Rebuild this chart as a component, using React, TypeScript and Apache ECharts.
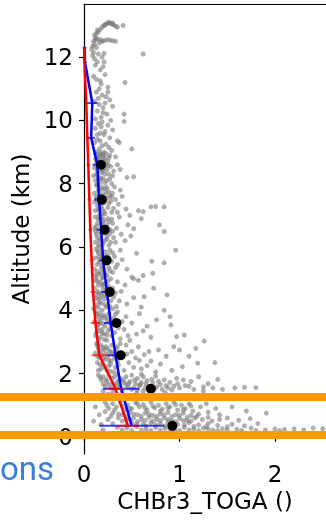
import React, { useEffect, useRef } from "react";
import * as echarts from "echarts";

// Profile levels (km) shared by the mean profiles and their spread bars
const levels = [0.35, 1.52, 2.58, 3.6, 4.58, 5.58, 6.55, 7.5, 8.6, 9.45, 10.55, 11.85, 12.3];
const blueMean = [0.5, 0.39, 0.33, 0.28, 0.24, 0.2, 0.18, 0.157, 0.14, 0.075, 0.087, 0.01, 0.005];
const blueErr = [0.34, 0.19, 0.085, 0.07, 0.06, 0.04, 0.05, 0.05, 0.05, 0.04, 0.055, 0.02, 0.02];
const redMean = [0.46, 0.33, 0.16, 0.12, 0.094, 0.08, 0.066, 0.056, 0.045, 0.035, 0.024, 0.004, 0.002];
const redErr = [0.12, 0.09, 0.08, 0.05, 0.025, 0.02, 0.02, 0.02, 0.02, 0.015, 0.015, 0.01, 0.01];

// Binned medians
const dotLevels = [0.35, 1.52, 2.58, 3.6, 4.58, 5.58, 6.55, 7.5, 8.6];
const dotValues = [0.925, 0.7, 0.385, 0.34, 0.27, 0.237, 0.217, 0.188, 0.178];

// Reference altitudes marked across the figure
const bandLevels = [0.06, 1.26];

const xTicks = [0, 1, 2];
const yTicks = [0, 2, 4, 6, 8, 10, 12];

// Individual samples: [CHBr3, altitude km]
const obsPoints: [number, number][] = [
  [0.19, 12.95], [0.21, 13.0], [0.23, 13.05], [0.25, 13.08], [0.27, 13.07], [0.29, 13.05], [0.31, 13.02],
  [0.33, 12.98], [0.35, 12.95], [0.22, 13.02], [0.26, 13.1], [0.3, 13.08], [0.41, 13.0], [0.17, 12.88],
  [0.15, 12.8], [0.13, 12.75], [0.11, 12.7], [0.14, 12.85], [0.12, 12.62],
  [0.1, 12.5], [0.12, 12.55], [0.14, 12.58], [0.17, 12.55], [0.19, 12.5], [0.21, 12.52], [0.24, 12.55],
  [0.27, 12.54], [0.3, 12.52], [0.33, 12.5], [0.16, 12.45], [0.11, 12.4], [0.09, 12.35],
  [0.08, 12.25], [0.1, 12.15], [0.13, 12.3], [0.09, 12.05], [0.15, 12.1], [0.19, 12.0], [0.21, 12.12],
  [0.11, 11.95], [0.62, 12.1],
  [0.14, 11.85], [0.1, 11.4], [0.17, 11.6], [0.2, 11.7], [0.13, 11.3], [0.22, 11.45], [0.18, 11.15],
  [0.43, 11.2], [0.25, 11.05], [0.16, 11.0], [0.12, 11.75], [0.17, 11.25], [0.21, 11.85],
  [0.13, 10.9], [0.19, 10.8], [0.23, 10.75], [0.11, 10.6], [0.27, 10.65], [0.16, 10.5], [0.2, 10.4],
  [0.3, 10.45], [0.14, 10.3], [0.24, 10.2], [0.42, 10.2], [0.18, 10.1], [0.12, 10.05], [0.28, 10.0], [0.22, 10.55],
  [0.2, 10.25], [0.15, 10.7], [0.25, 10.9],
  [0.15, 9.9], [0.19, 9.95], [0.42, 9.97], [0.25, 9.85], [0.12, 9.75], [0.3, 9.7], [0.17, 9.6], [0.21, 9.55],
  [0.14, 9.4], [0.27, 9.45], [0.35, 9.35], [0.11, 9.3], [0.19, 9.2], [0.23, 9.25], [0.5, 9.1], [0.16, 9.1],
  [0.29, 9.05], [0.13, 9.0], [0.21, 9.0], [0.37, 9.3], [0.18, 9.8], [0.22, 9.65], [0.14, 9.55], [0.26, 9.15],
  [0.17, 9.35],
  [0.12, 8.95], [0.15, 8.9], [0.18, 8.92], [0.2, 8.85], [0.14, 8.8], [0.17, 8.75], [0.22, 8.8], [0.25, 8.7],
  [0.13, 8.65], [0.19, 8.6], [0.16, 8.55], [0.21, 8.5], [0.24, 8.45], [0.28, 8.55], [0.11, 8.5], [0.14, 8.4],
  [0.18, 8.35], [0.22, 8.3], [0.26, 8.3], [0.31, 8.4], [0.35, 8.6], [0.15, 8.2], [0.2, 8.15], [0.17, 8.05],
  [0.24, 8.1], [0.12, 8.1], [0.29, 8.0], [0.45, 8.2], [0.52, 8.22], [0.38, 8.45], [0.33, 8.85], [0.1, 8.25],
  [0.23, 8.95], [0.27, 8.9], [0.16, 8.68], [0.2, 8.4], [0.13, 8.3], [0.25, 8.58],
  [0.17, 8.98], [0.21, 8.72], [0.14, 8.52], [0.19, 8.45], [0.23, 8.62], [0.26, 8.82], [0.12, 8.78],
  [0.18, 8.18], [0.22, 8.02], [0.15, 8.12], [0.3, 8.25], [0.27, 8.15], [0.2, 8.92], [0.16, 8.85],
  [0.13, 7.95], [0.18, 7.9], [0.22, 7.85], [0.15, 7.8], [0.26, 7.75], [0.11, 7.7], [0.2, 7.65], [0.3, 7.7],
  [0.16, 7.6], [0.24, 7.55], [0.13, 7.5], [0.28, 7.45], [0.21, 7.4], [0.17, 7.35], [0.33, 7.5], [0.36, 7.35],
  [0.14, 7.3], [0.25, 7.25], [0.19, 7.2], [0.12, 7.15], [0.29, 7.1], [0.22, 7.05], [0.4, 7.6], [0.44, 7.2],
  [0.7, 7.27], [0.75, 7.28], [0.84, 7.27], [0.48, 7.0], [0.16, 7.0], [0.32, 7.9], [0.38, 7.8], [0.35, 7.1],
  [0.62, 7.12], [0.57, 7.15], [0.2, 7.5], [0.15, 7.42], [0.27, 7.62],
  [0.14, 7.98], [0.19, 7.82], [0.23, 7.72], [0.17, 7.68], [0.13, 7.58], [0.22, 7.48], [0.18, 7.28],
  [0.26, 7.38], [0.15, 7.18], [0.21, 7.12], [0.24, 7.88], [0.29, 7.58], [0.11, 7.42], [0.18, 7.05], [0.31, 7.22],
  [0.12, 6.95], [0.17, 6.9], [0.21, 6.85], [0.26, 6.8], [0.14, 6.75], [0.19, 6.7], [0.3, 6.75], [0.23, 6.6],
  [0.11, 6.6], [0.16, 6.5], [0.27, 6.55], [0.34, 6.6], [0.2, 6.45], [0.13, 6.4], [0.24, 6.35], [0.31, 6.3],
  [0.17, 6.25], [0.22, 6.2], [0.28, 6.15], [0.12, 6.15], [0.15, 6.05], [0.26, 6.05], [0.39, 6.4], [0.46, 6.7],
  [0.52, 6.58], [0.43, 6.2], [0.84, 6.49], [0.79, 6.7], [0.6, 6.9], [0.37, 6.95], [0.49, 6.35], [0.19, 6.95],
  [0.18, 6.58], [0.14, 6.3], [0.25, 6.9],
  [0.15, 6.88], [0.2, 6.78], [0.24, 6.68], [0.13, 6.65], [0.18, 6.42], [0.22, 6.52], [0.27, 6.42], [0.16, 6.18],
  [0.2, 6.1], [0.24, 6.25], [0.3, 6.5], [0.12, 6.5], [0.17, 6.02], [0.29, 6.88], [0.33, 6.15],
  [0.13, 5.95], [0.18, 5.9], [0.22, 5.85], [0.27, 5.9], [0.15, 5.8], [0.2, 5.7], [0.25, 5.75], [0.32, 5.7],
  [0.12, 5.65], [0.17, 5.6], [0.29, 5.55], [0.23, 5.5], [0.14, 5.45], [0.19, 5.4], [0.26, 5.35], [0.35, 5.45],
  [0.11, 5.3], [0.21, 5.25], [0.3, 5.2], [0.16, 5.15], [0.24, 5.1], [0.13, 5.05], [0.28, 5.0], [0.4, 5.6],
  [0.45, 5.3], [0.55, 5.8], [0.62, 5.1], [0.96, 5.9], [0.84, 5.5], [0.71, 5.55], [0.5, 5.05], [0.38, 5.9],
  [0.2, 5.05], [0.16, 5.52], [0.22, 5.62], [0.18, 5.18],
  [0.14, 5.88], [0.19, 5.78], [0.23, 5.68], [0.16, 5.7], [0.21, 5.48], [0.25, 5.58], [0.18, 5.32], [0.14, 5.22],
  [0.22, 5.15], [0.27, 5.25], [0.12, 5.12], [0.3, 5.82], [0.33, 5.35], [0.19, 5.02], [0.26, 5.65],
  [0.12, 4.95], [0.17, 4.9], [0.22, 4.85], [0.15, 4.8], [0.26, 4.75], [0.11, 4.7], [0.2, 4.65], [0.3, 4.7],
  [0.14, 4.6], [0.18, 4.5], [0.24, 4.45], [0.33, 4.55], [0.12, 4.4], [0.21, 4.35], [0.28, 4.3], [0.16, 4.25],
  [0.37, 4.3], [0.13, 4.15], [0.23, 4.1], [0.3, 4.05], [0.19, 4.0], [0.43, 4.8], [0.52, 5.0], [0.57, 4.95],
  [0.72, 5.17], [0.73, 4.7], [0.87, 4.49], [0.63, 4.43], [0.52, 4.4], [0.45, 4.2], [0.6, 4.1], [0.39, 4.6],
  [0.1, 4.05], [0.35, 4.9], [0.2, 4.82], [0.15, 4.35],
  [0.14, 4.92], [0.19, 4.78], [0.23, 4.68], [0.16, 4.55], [0.21, 4.48], [0.26, 4.58], [0.13, 4.5], [0.18, 4.22],
  [0.22, 4.18], [0.27, 4.12], [0.15, 4.08], [0.31, 4.42], [0.34, 4.12], [0.17, 4.4], [0.25, 4.92],
  [0.12, 3.95], [0.16, 3.9], [0.21, 3.85], [0.26, 3.9], [0.14, 3.8], [0.19, 3.75], [0.24, 3.7], [0.31, 3.75],
  [0.11, 3.65], [0.17, 3.6], [0.28, 3.55], [0.22, 3.5], [0.14, 3.45], [0.36, 3.45], [0.19, 3.4], [0.25, 3.35],
  [0.32, 3.3], [0.13, 3.3], [0.21, 3.25], [0.29, 3.2], [0.17, 3.15], [0.38, 3.1], [0.24, 3.05], [0.44, 3.8],
  [0.5, 3.6], [0.58, 3.9], [0.66, 3.5], [0.76, 3.7], [0.9, 3.8], [0.55, 3.25], [0.42, 3.4], [0.91, 3.54],
  [0.97, 3.17], [1.05, 3.22], [0.7, 3.15], [0.48, 3.05], [0.62, 3.35], [0.15, 3.05], [0.35, 3.95], [0.84, 4.0],
  [0.13, 3.88], [0.18, 3.82], [0.23, 3.78], [0.16, 3.68], [0.2, 3.58], [0.26, 3.62], [0.15, 3.55], [0.19, 3.28],
  [0.24, 3.22], [0.27, 3.42], [0.12, 3.2], [0.3, 3.6], [0.33, 3.88], [0.21, 3.08], [0.16, 3.35], [0.4, 3.65],
  [0.46, 3.2],
  [0.13, 2.95], [0.18, 2.9], [0.23, 2.85], [0.29, 2.9], [0.15, 2.8], [0.21, 2.75], [0.27, 2.7], [0.34, 2.75],
  [0.12, 2.65], [0.19, 2.6], [0.25, 2.55], [0.31, 2.6], [0.16, 2.5], [0.4, 2.55], [0.22, 2.45], [0.28, 2.4],
  [0.35, 2.4], [0.14, 2.35], [0.2, 2.3], [0.26, 2.25], [0.33, 2.2], [0.18, 2.15], [0.24, 2.1], [0.31, 2.05],
  [0.44, 2.9], [0.5, 2.7], [0.57, 2.85], [0.47, 2.35], [0.54, 2.5], [0.63, 2.6], [0.7, 2.4], [0.78, 2.75],
  [0.94, 2.85], [1.0, 2.75], [1.17, 2.8], [1.26, 3.03], [0.86, 2.55], [1.03, 2.22], [1.19, 2.33], [1.37, 2.35],
  [0.6, 2.15], [0.42, 2.1], [0.92, 2.1], [0.38, 2.95], [0.66, 2.25], [0.75, 2.05], [1.1, 2.55],
  [0.14, 2.88], [0.2, 2.82], [0.25, 2.78], [0.17, 2.7], [0.23, 2.62], [0.29, 2.68], [0.14, 2.55], [0.2, 2.48],
  [0.26, 2.42], [0.32, 2.48], [0.17, 2.28], [0.22, 2.2], [0.28, 2.3], [0.36, 2.28], [0.15, 2.1], [0.27, 2.08],
  [0.38, 2.65], [0.45, 2.62], [0.52, 2.2], [0.58, 2.42], [0.68, 2.7], [0.8, 2.3], [0.35, 2.85],
  [0.15, 1.95], [0.2, 1.9], [0.26, 1.95], [0.32, 1.9], [0.38, 1.85], [0.44, 1.9], [0.5, 1.95], [0.56, 1.85],
  [0.62, 1.9], [0.18, 1.8], [0.24, 1.75], [0.3, 1.7], [0.36, 1.78], [0.42, 1.72], [0.48, 1.75], [0.54, 1.68],
  [0.6, 1.72], [0.66, 1.78], [0.72, 1.7], [0.78, 1.75], [0.84, 1.8], [0.9, 1.72], [0.22, 1.6], [0.28, 1.55],
  [0.34, 1.62], [0.46, 1.58], [0.52, 1.55], [0.58, 1.62], [0.64, 1.55], [0.76, 1.58], [0.82, 1.5], [0.88, 1.55],
  [0.94, 1.6], [1.0, 1.55], [1.06, 1.62], [1.2, 1.9], [1.12, 1.75], [1.3, 1.68], [1.4, 1.82], [1.58, 1.55],
  [1.68, 1.57], [1.8, 1.56], [1.45, 1.5], [1.25, 1.45], [0.97, 1.85], [0.7, 1.45], [0.4, 1.45], [0.3, 1.4],
  [1.15, 1.5], [0.25, 1.35], [0.55, 1.38], [0.85, 1.4],
  [0.17, 1.88], [0.23, 1.82], [0.29, 1.85], [0.35, 1.7], [0.41, 1.8], [0.47, 1.68], [0.53, 1.8], [0.59, 1.65],
  [0.65, 1.68], [0.71, 1.82], [0.2, 1.68], [0.26, 1.65], [0.32, 1.52], [0.38, 1.58], [0.44, 1.65], [0.5, 1.5],
  [0.56, 1.48], [0.62, 1.45], [0.68, 1.6], [0.74, 1.52], [0.8, 1.65], [0.86, 1.62], [0.92, 1.48], [0.98, 1.68],
  [1.04, 1.8], [1.1, 1.6], [0.2, 1.45], [0.35, 1.98], [0.6, 1.98], [0.75, 1.92], [1.25, 1.58], [1.35, 1.55],
  [0.22, 1.1], [0.3, 1.05], [0.38, 1.1], [0.46, 1.0], [0.54, 1.08], [0.62, 1.02], [0.7, 1.1], [0.78, 1.0],
  [0.86, 1.05], [0.94, 1.1], [1.02, 1.0], [1.1, 1.05], [0.26, 0.9], [0.34, 0.95], [0.42, 0.85], [0.5, 0.9],
  [0.58, 0.95], [0.66, 0.85], [0.74, 0.92], [0.82, 0.88], [0.9, 0.95], [0.98, 0.85], [1.06, 0.9], [1.14, 0.82],
  [1.22, 0.95], [0.3, 0.75], [0.4, 0.7], [0.48, 0.78], [0.56, 0.7], [0.64, 0.75], [0.72, 0.68], [0.8, 0.72],
  [0.88, 0.78], [0.96, 0.7], [1.04, 0.75], [1.12, 0.68], [1.2, 0.72], [1.3, 0.78], [1.42, 0.7], [1.91, 0.75],
  [0.36, 0.6], [0.44, 0.55], [0.52, 0.6], [0.6, 0.55], [0.68, 0.62], [0.76, 0.55], [0.84, 0.6], [0.92, 0.52],
  [1.0, 0.58], [1.08, 0.52], [1.16, 0.6], [1.24, 0.55], [1.34, 0.5], [1.5, 0.6], [1.62, 0.52], [1.74, 0.58],
  [0.5, 0.45], [0.62, 0.4], [0.7, 0.45], [0.8, 0.42], [0.88, 0.47], [0.98, 0.4], [1.1, 0.45], [1.2, 0.38],
  [1.3, 0.42], [1.4, 0.36], [1.55, 0.4], [1.68, 0.35], [1.82, 0.42], [0.35, 0.3], [0.45, 0.28], [0.55, 0.32],
  [0.65, 0.25], [0.75, 0.3], [0.85, 0.27], [0.95, 0.22], [1.05, 0.3], [1.15, 0.25], [1.25, 0.28], [1.35, 0.22],
  [1.45, 0.26], [1.6, 0.24], [1.75, 0.28], [1.9, 0.22], [2.0, 0.25], [2.1, 0.24], [2.2, 0.25], [2.4, 0.28],
  [2.5, 0.26], [0.2, 0.22], [0.12, 0.95], [0.16, 0.7], [0.1, 0.5], [0.18, 0.4],
  [0.24, 1.0], [0.32, 0.85], [0.4, 0.98], [0.48, 0.88], [0.56, 1.05], [0.64, 0.92], [0.72, 0.98], [0.8, 0.82],
  [0.88, 0.92], [0.96, 1.02], [1.04, 0.85], [1.12, 0.98], [0.28, 0.65], [0.36, 0.72], [0.44, 0.65], [0.52, 0.72],
  [0.6, 0.65], [0.68, 0.72], [0.76, 0.65], [0.84, 0.7], [0.92, 0.65], [1.0, 0.68], [1.08, 0.62], [1.18, 0.65],
  [0.4, 0.5], [0.48, 0.55], [0.56, 0.48], [0.64, 0.52], [0.72, 0.5], [0.8, 0.52], [0.88, 0.55], [0.96, 0.48],
  [1.04, 0.52], [1.12, 0.5], [0.45, 0.38], [0.55, 0.4], [0.65, 0.35], [0.75, 0.38], [0.85, 0.35], [0.95, 0.32],
  [1.05, 0.38], [1.15, 0.33], [1.28, 0.32], [1.5, 0.32], [0.3, 0.42], [0.25, 0.55], [0.22, 0.8], [1.3, 0.62],
  [1.42, 0.55], [1.38, 0.9], [1.28, 1.05], [1.55, 0.95], [1.7, 0.82],
  [0.6, 0.22], [0.7, 0.2], [0.8, 0.22], [0.9, 0.25], [1.0, 0.2], [1.1, 0.22], [1.2, 0.2], [1.3, 0.25],
  [1.4, 0.2], [1.5, 0.22], [1.65, 0.2], [1.8, 0.2], [2.05, 0.2], [2.3, 0.22], [0.5, 0.2], [0.4, 0.22],
];

const XMAX = 2.534;
const FONT = "DejaVu Sans";
const W = 326;
const H = 521;

export default function App() {
  const ref = useRef<HTMLDivElement>(null);

  useEffect(() => {
    const chart = echarts.init(ref.current!, null, { renderer: "svg" });

    const errRender = (color: string) => (params: any, api: any) => {
      const c = api.value(0);
      const y = api.value(1);
      const e = api.value(2);
      const p1 = api.coord([c - e, y]);
      const p2 = api.coord([c + e, y]);
      return {
        type: "line",
        shape: { x1: p1[0], y1: p1[1], x2: p2[0], y2: p2[1] },
        style: { stroke: color, lineWidth: 2 },
      };
    };

    chart.setOption({
      animation: false,
      grid: { left: 84, right: 0, top: 4, bottom: 67, containLabel: false },
      xAxis: [
        {
          type: "value",
          min: 0,
          max: XMAX,
          name: "CHBr3_TOGA ()",
          nameLocation: "middle",
          nameGap: 31,
          nameTextStyle: { fontFamily: FONT, fontSize: 23, color: "#000" },
          axisLine: { show: true, lineStyle: { color: "#000", width: 1.2 } },
          axisTick: { show: true, length: 5, customValues: xTicks, lineStyle: { color: "#000", width: 1.2 } },
          axisLabel: { customValues: xTicks, fontFamily: FONT, fontSize: 23, color: "#000", margin: 8 },
          splitLine: { show: false },
        },
        {
          type: "value",
          position: "top",
          min: 0,
          max: XMAX,
          axisLine: { show: true, lineStyle: { color: "#000", width: 1.2 } },
          axisTick: { show: false },
          axisLabel: { show: false },
          splitLine: { show: false },
        },
      ],
      yAxis: {
        type: "value",
        min: -0.54,
        max: 13.68,
        name: "Altitude (km)",
        nameLocation: "middle",
        nameGap: 42,
        nameTextStyle: { fontFamily: FONT, fontSize: 23, color: "#000" },
        axisLine: { show: true, lineStyle: { color: "#000", width: 1.2 } },
        axisTick: { show: true, length: 5, customValues: yTicks, lineStyle: { color: "#000", width: 1.2 } },
        axisLabel: { customValues: yTicks, fontFamily: FONT, fontSize: 23, color: "#000", margin: 11 },
        splitLine: { show: false },
      },
      series: [
        {
          type: "scatter",
          data: obsPoints,
          symbolSize: 5,
          itemStyle: { color: "rgb(120,120,120)", opacity: 0.6 },
          z: 1,
        },
        {
          type: "custom",
          renderItem: errRender("rgba(0,0,255,0.75)"),
          data: levels.map((l, i) => [blueMean[i], l, blueErr[i]]),
          encode: { x: 0, y: 1 },
          z: 2,
        },
        {
          type: "line",
          data: levels.map((l, i) => [blueMean[i], l]),
          showSymbol: false,
          lineStyle: { color: "#0000ff", width: 2.5 },
          z: 3,
        },
        {
          type: "custom",
          renderItem: errRender("rgba(255,0,0,0.65)"),
          data: levels.map((l, i) => [redMean[i], l, redErr[i]]),
          encode: { x: 0, y: 1 },
          z: 4,
        },
        {
          type: "line",
          data: levels.map((l, i) => [redMean[i], l]),
          showSymbol: false,
          lineStyle: { color: "#ff0000", width: 2.5 },
          z: 5,
        },
        {
          type: "scatter",
          data: dotLevels.map((l, i) => [dotValues[i], l]),
          symbolSize: 10,
          itemStyle: { color: "#000", opacity: 1 },
          z: 6,
        },
      ],
    });

    // Horizontal reference bands span the whole figure width
    const bands = bandLevels.map((b, i) => {
      const y = chart.convertToPixel({ xAxisIndex: 0, yAxisIndex: 0 }, [0, b])[1];
      return {
        type: "line",
        id: "band" + i,
        shape: { x1: 0, y1: y, x2: W, y2: y },
        style: { stroke: "#ff9900", lineWidth: 8 },
        z: 100,
      };
    });

    chart.setOption({
      graphic: [
        ...bands,
        {
          type: "text",
          id: "caption",
          left: 0,
          top: 452,
          style: { text: "ons", fontFamily: "Roboto", fontSize: 33, fill: "#3b7ddd" },
          z: 100,
        },
      ],
    });

    return () => chart.dispose();
  }, []);

  return (
    <div ref={ref} style={{ position: "fixed", left: 0, top: 0, width: W, height: H }} />
  );
}
